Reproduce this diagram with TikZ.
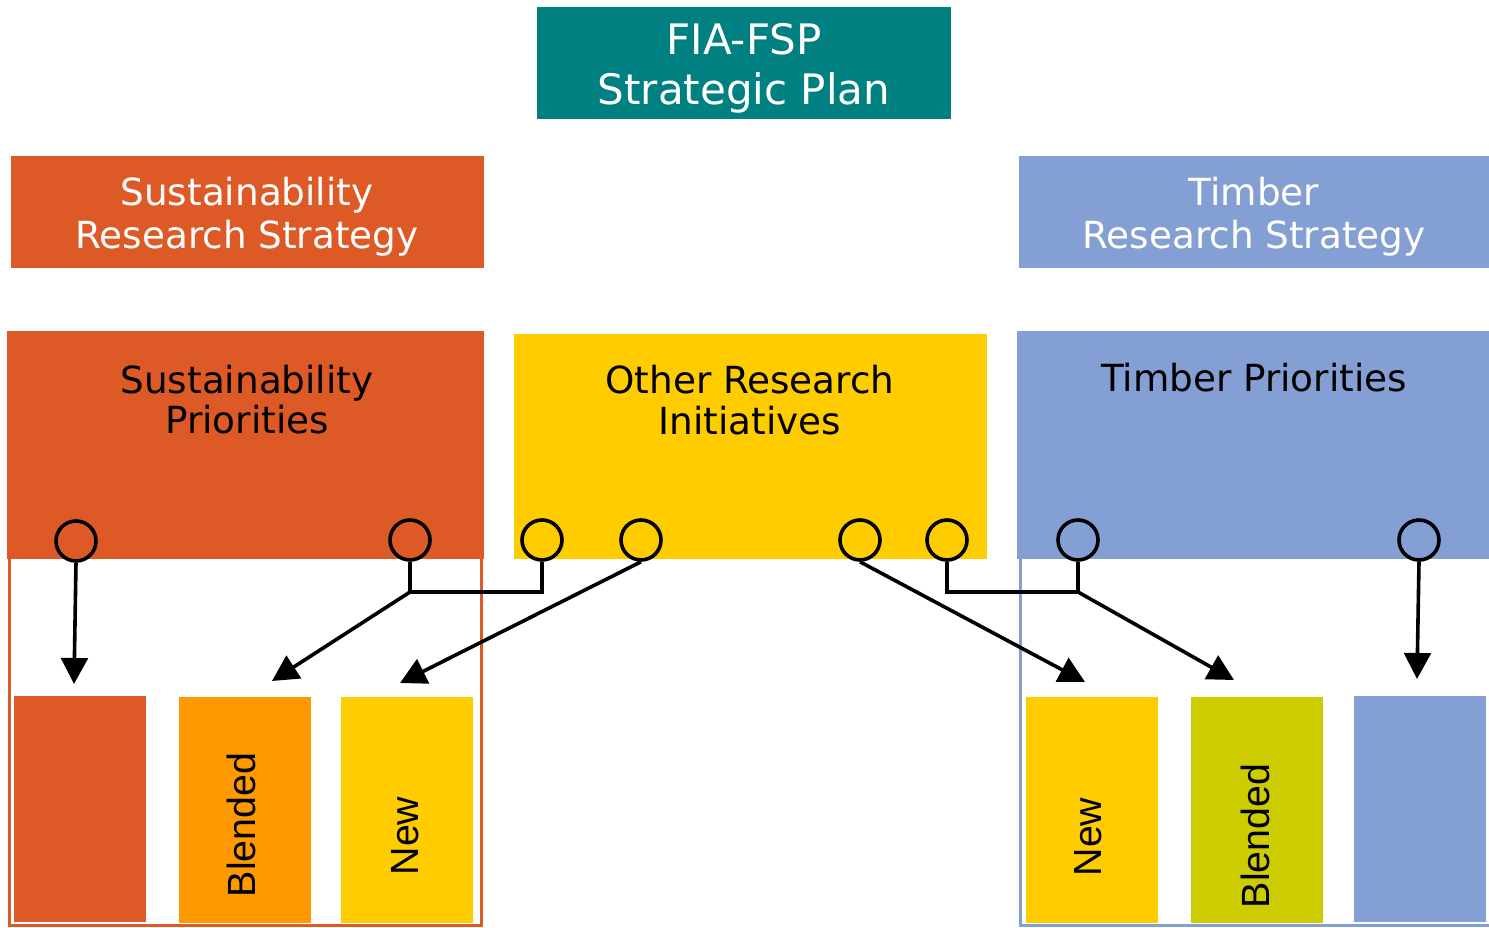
\documentclass[tikz,border=0pt]{standalone}
\usepackage{fontspec}
\setmainfont{DejaVu Sans}
\newfontfamily\arialf{Liberation Sans}
\usetikzlibrary{arrows.meta}
\definecolor{cteal}{RGB}{0,128,128}
\definecolor{corange}{RGB}{221,90,38}
\definecolor{cblue}{RGB}{132,159,212}
\definecolor{cyellow}{RGB}{255,204,0}
\definecolor{cblend}{RGB}{255,153,0}
\definecolor{colive}{RGB}{204,204,0}
\tikzset{
  box/.style={draw=none, rectangle, anchor=north west, inner sep=0pt},
  smallbox/.style={box, minimum width=99pt, minimum height=169.5pt},
  port/.style={circle, draw=black, line width=2.7pt, minimum size=30pt, inner sep=0pt},
  link/.style={draw=black, line width=2.7pt},
  arr/.style={link, -{Triangle[length=19.5pt, width=20pt]}},
  head/.style={font=\fontsize{28pt}{32pt}\selectfont, align=center},
  vtext/.style={font=\arialf\fontsize{29.5pt}{32pt}\selectfont, rotate=90, inner sep=0pt},
}
\begin{document}
\begin{tikzpicture}[x=0.75pt, y=-0.75pt]
\useasboundingbox (0,0) rectangle (1489,928);
% outline frames
\draw[draw=corange, line width=2.25pt] (9,540) rectangle (481,925);
\draw[draw=cblue, line width=2.25pt] (1020,540) rectangle (1495,925);
% top
\node[box, fill=cteal, minimum width=310.5pt, minimum height=84pt] (plan) at (537,7) {};
\node[head, text=white, font=\fontsize{31.5pt}{37.5pt}\selectfont] (plant) at (744,68) {FIA-FSP\\Strategic Plan};
% strategies
\node[box, fill=corange, minimum width=354.75pt, minimum height=84pt] (sstrat) at (11,156) {};
\node[head, text=white] (sstratt) at (247,217) {Sustainability\\Research Strategy};
\node[box, fill=cblue, minimum width=352.5pt, minimum height=84pt] (tstrat) at (1019,156) {};
\node[head, text=white] (tstratt) at (1254,217) {Timber\\Research Strategy};
% priorities
\node[box, fill=corange, minimum width=357.75pt, minimum height=171pt] (sprio) at (7,331) {};
\node[head, font=\fontsize{28pt}{30pt}\selectfont] (spriot) at (247,400) {Sustainability\\Priorities};
\node[box, fill=cyellow, minimum width=354.75pt, minimum height=168.75pt] (other) at (514,334) {};
\node[head, font=\fontsize{28pt}{30.75pt}\selectfont] (othert) at (750,400) {Other Research\\Initiatives};
\node[box, fill=cblue, minimum width=354pt, minimum height=171pt] (tprio) at (1017,331) {};
\node[head] (tpriot) at (1254,378) {Timber Priorities};
% small boxes
\node[smallbox, fill=corange] (sb1) at (14,696) {};
\node[smallbox, fill=cblend] (sb2) at (179,697) {};
\node[smallbox, fill=cyellow] (sb3) at (341,697) {};
\node[smallbox, fill=cyellow] (tb1) at (1026,697) {};
\node[smallbox, fill=colive] (tb2) at (1191,697) {};
\node[smallbox, fill=cblue] (tb3) at (1354,696) {};
\node[vtext] (sb2t) at (241,825) {Blended};
\node[vtext] (sb3t) at (405,836) {New};
\node[vtext] (tb1t) at (1088,837) {New};
\node[vtext] (tb2t) at (1255,836) {Blended};
% ports
\node[port, fill=corange] (p1) at (76,541) {};
\node[port, fill=corange] (p2) at (410,540) {};
\node[port, fill=cyellow] (p3) at (542,540) {};
\node[port, fill=cyellow] (p4) at (641,540) {};
\node[port, fill=cyellow] (p5) at (860,540) {};
\node[port, fill=cyellow] (p6) at (947,540) {};
\node[port, fill=cblue] (p7) at (1078,540) {};
\node[port, fill=cblue] (p8) at (1419,540) {};
% junctions and tips
\coordinate (j1) at (410,592);
\coordinate (j2) at (1078,592);
\coordinate (a1) at (74,684);
\coordinate (a2) at (272,681);
\coordinate (a3) at (400,683);
\coordinate (a4) at (1085,682);
\coordinate (a5) at (1234,680);
\coordinate (a6) at (1417,679);
% connectors
\draw[arr] (p1.south) -- (a1);
\draw[link] (p2.south) -- (j1) -| (p3.south);
\draw[arr] (j1) -- (a2);
\draw[arr] (p4.south) -- (a3);
\draw[arr] (p5.south) -- (a4);
\draw[link] (p6.south) |- (j2) -- (p7.south);
\draw[arr] (j2) -- (a5);
\draw[arr] (p8.south) -- (a6);
\end{tikzpicture}
\end{document}
